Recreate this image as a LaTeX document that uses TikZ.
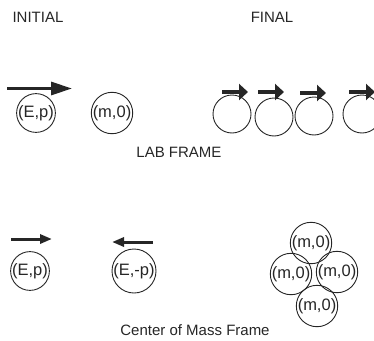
\documentclass[tikz,border=0pt]{standalone}
\usepackage{fontspec}
\setmainfont{Liberation Sans}
\usetikzlibrary{arrows.meta}
\definecolor{ink}{HTML}{262626}
\begin{document}
\begin{tikzpicture}[x=1pt,y=-1pt,
  font=\fontsize{15}{18}\selectfont,
  lbl/.style={text=ink, inner sep=0pt},
  ball/.style={circle, draw=ink, line width=0.9pt, minimum size=38pt, inner sep=0pt, text=ink, font=\fontsize{16.5}{19}\selectfont},
  bigarrow/.style={draw=ink, line width=3.2pt, -{Triangle[length=21pt,width=13pt]}},
  finarrow/.style={draw=ink, line width=4pt, -{Triangle[length=9pt,width=16pt]}},
  cmarrow/.style={draw=ink, line width=3pt, -{Triangle[length=12pt,width=9pt]}}]
\useasboundingbox (0,0) rectangle (374,340);
% titles
\node[lbl] (initial) at (38,17.5) {INITIAL};
\node[lbl] (final) at (272,17.5) {FINAL};
\node[lbl] (lab) at (179,152.5) {LAB FRAME};
\node[lbl] (cm) at (195,330) {Center of Mass Frame};
% lab frame initial
\node[ball] (ep) at (36,113) {(E,p)};
\node[ball] (m0) at (112,113) {(m,0)};
\coordinate (a1s) at (7,88.5);
\coordinate (a1e) at (72,88.5);
\draw[bigarrow] (a1s) -- (a1e);
% lab frame final
\node[ball] (f1) at (232,114) {};
\node[ball] (f2) at (274,117) {};
\node[ball] (f3) at (314,116) {};
\node[ball] (f4) at (362,114) {};
\coordinate (b1s) at (222,92); \coordinate (b1e) at (248,92);
\coordinate (b2s) at (258,92); \coordinate (b2e) at (284,92);
\coordinate (b3s) at (300,93); \coordinate (b3e) at (326,93);
\coordinate (b4s) at (349,92); \coordinate (b4e) at (375,92);
\draw[finarrow] (b1s) -- (b1e);
\draw[finarrow] (b2s) -- (b2e);
\draw[finarrow] (b3s) -- (b3e);
\draw[finarrow] (b4s) -- (b4e);
% center of mass frame
\node[ball] (cep) at (30,271) {(E,p)};
\node[ball] (cemp) at (134,271) {(E,-p)};
\coordinate (c1s) at (11,239); \coordinate (c1e) at (52,239);
\coordinate (c2s) at (153,242); \coordinate (c2e) at (112,242);
\draw[cmarrow] (c1s) -- (c1e);
\draw[cmarrow] (c2s) -- (c2e);
\node[ball] (mt) at (311,243) {(m,0)};
\node[ball] (ml) at (291,274) {(m,0)};
\node[ball] (mr) at (337,272) {(m,0)};
\node[ball] (mb) at (317,306) {(m,0)};
\end{tikzpicture}
\end{document}
